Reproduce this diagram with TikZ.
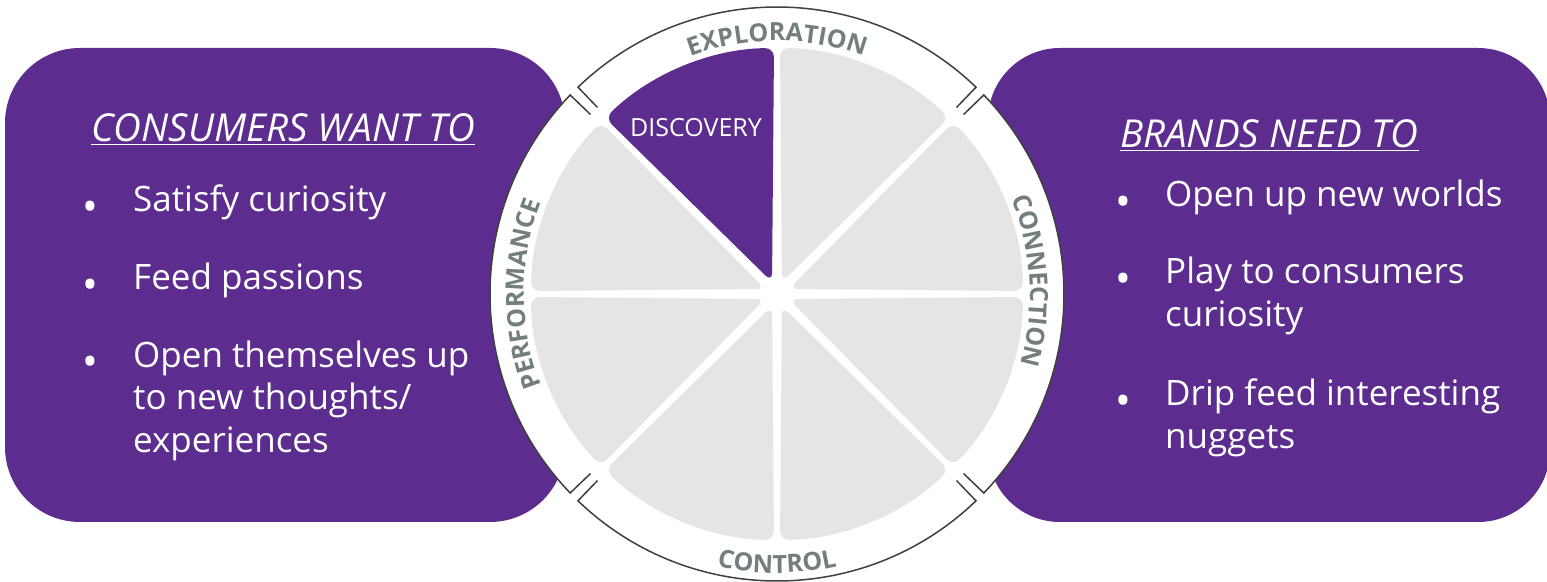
\documentclass[tikz,border=0pt]{standalone}
\usepackage{fontspec}
\setmainfont{Open Sans}
\usetikzlibrary{positioning,calc,decorations.text}
\definecolor{brandpurple}{HTML}{5C2D8E}
\definecolor{wedgegray}{HTML}{E5E5E5}
\definecolor{ringgray}{HTML}{737E7E}
\definecolor{ringline}{HTML}{404040}
\newcommand{\ringfont}{\fontsize{25}{25}\selectfont\bfseries\color{ringgray}}

\begin{document}
\begin{tikzpicture}[x=1pt, y=1pt,
  panel/.style={fill=brandpurple, rounded corners=75pt, inner sep=0pt, minimum height=474pt},
  wedge/.style={rounded corners=9pt},
  ringarc/.style={draw=ringline, line width=1.5pt},
  head/.style={text=white, anchor=base west, inner sep=0pt, font=\fontsize{38.5}{44}\selectfont\itshape},
  item/.style={text=white, anchor=base west, inner sep=0pt, align=left, font=\fontsize{35}{43}\selectfont},
  dot/.style={text=white, anchor=base, inner sep=0pt, font=\fontsize{42}{43}\selectfont},
  ringlabel/.style={decorate, decoration={text along path, text align=center}}]
\useasboundingbox (0,0) rectangle (1547,581);
\coordinate (hub) at (777,287);

% purple panels behind the wheel
\node[panel, minimum width=560pt] (consumers) at (285,296) {};
\node[panel, rounded corners=72pt, minimum width=562pt] (brands) at (1269,296) {};

% wheel with its outer ring
\fill[white] (hub) circle[radius=287pt];
\foreach \a in {0,90,180,270}
  \draw[ringarc] ($(hub)+({\a-43.9}:259)$) -- ($(hub)+({\a-43.9}:287)$)
    arc[start angle={\a-43.9}, end angle={\a+43.9}, radius=287pt] -- ($(hub)+({\a+43.9}:259)$);
\foreach \a/\c in {0/wedgegray,45/wedgegray,90/brandpurple,135/wedgegray,180/wedgegray,225/wedgegray,270/wedgegray,315/wedgegray}
  \fill[wedge, fill=\c] ($(hub)+({\a+22.5}:13)$) -- ($(hub)+({\a+0.7}:246)$)
    arc[start angle={\a+0.7}, end angle={\a+44.3}, radius=246pt] -- cycle;
\node[text=white, font=\fontsize{25}{25}\selectfont] (discovery) at (696,453) {DISCOVERY};

% ring labels
\path[ringlabel, decoration={text={|\ringfont|EXPLORATION}}] ($(hub)+(135:253)$) arc[start angle=135, end angle=45, radius=253pt];
\path[ringlabel, decoration={text={|\ringfont|CONNECTION}}] ($(hub)+(43:253)$) arc[start angle=43, end angle=-37, radius=253pt];
\path[ringlabel, decoration={text={|\ringfont|PERFORMANCE}}] ($(hub)+(220:253)$) arc[start angle=220, end angle=140, radius=253pt];
\path[ringlabel, decoration={text={|\ringfont|CONTROL}}] ($(hub)+(235:279)$) arc[start angle=235, end angle=305, radius=279pt];

% consumers side
\node[head] (want) at (91,439) {\underline{CONSUMERS WANT TO}};
\node[dot] (wd1) at (90,359) {\textbullet};
\node[item] (want1) at (133,369) {Satisfy curiosity};
\node[dot] (wd2) at (90,281) {\textbullet};
\node[item] (want2) at (133,291) {Feed passions};
\node[dot] (wd3) at (90,204) {\textbullet};
\node[item] (want3) at (133,128) {Open themselves up\\to new thoughts/\\experiences};

% brands side
\node[head] (need) at (1120,433) {\underline{BRANDS NEED TO}};
\node[dot] (nd1) at (1123,364) {\textbullet};
\node[item] (need1) at (1165,374) {Open up new worlds};
\node[dot] (nd2) at (1123,287) {\textbullet};
\node[item] (need2) at (1165,254) {Play to consumers\\curiosity};
\node[dot] (nd3) at (1123,165) {\textbullet};
\node[item] (need3) at (1165,132) {Drip feed interesting\\nuggets};
\end{tikzpicture}
\end{document}
